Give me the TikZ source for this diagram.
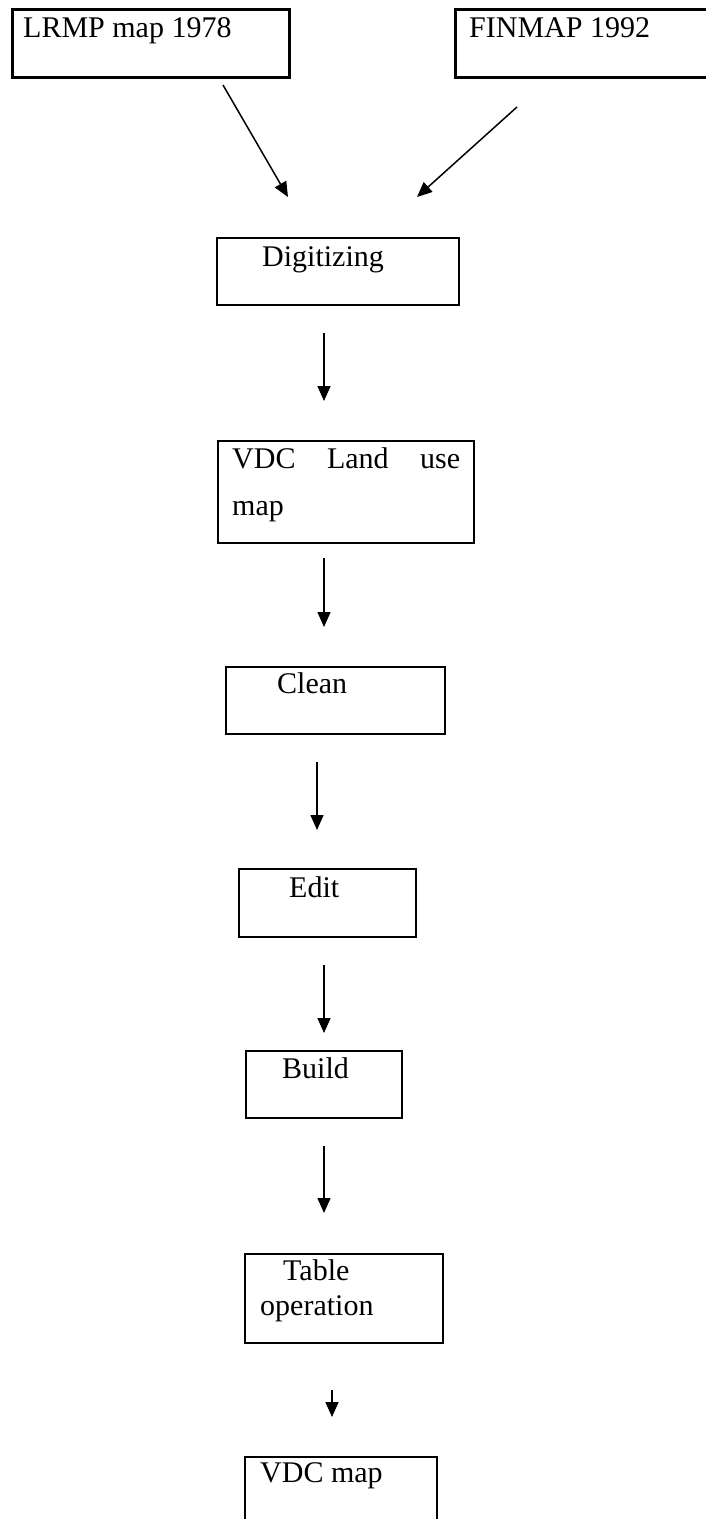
\documentclass[tikz,border=0pt]{standalone}
\usepackage{fontspec}
\setmainfont{Liberation Serif}
\usetikzlibrary{arrows.meta}

\tikzset{
	box/.style={draw, line width=2pt, inner sep=0pt},
	thickbox/.style={box, line width=3.2pt},
	txt/.style={anchor=base west, inner sep=0pt, font=\fontsize{30}{36}\selectfont},
	arr/.style={line width=1.5pt, -{Triangle[length=15pt, width=13pt]}}
}

\begin{document}
\begin{tikzpicture}[x=1pt, y=-1pt]
			\useasboundingbox (0,0) rectangle (706,1519);

			% the two source maps
			\node[thickbox, minimum width=277pt, minimum height=68pt] (lrmp) at (151,43.5) {};
			\node[thickbox, minimum width=285pt, minimum height=68pt] (finmap) at (598,43.5) {};
			\node[txt] (lrmptxt) at (23,37) {LRMP map 1978};
			\node[txt] (finmaptxt) at (469,37) {FINMAP 1992};

			% processing steps
			\node[box, minimum width=242pt, minimum height=67pt] (dig) at (338,271.5) {};
			\node[box, minimum width=256pt, minimum height=102pt] (vdc) at (346,492) {};
			\node[box, minimum width=219pt, minimum height=67pt] (clean) at (335.5,700.5) {};
			\node[box, minimum width=177pt, minimum height=68pt] (edit) at (327.5,903) {};
			\node[box, minimum width=156pt, minimum height=67pt] (build) at (324,1084.5) {};
			\node[box, minimum width=198pt, minimum height=89pt] (table) at (344,1298.5) {};
			\node[box, minimum width=192pt, minimum height=102pt] (vdcmap) at (341,1508) {};

			\node[txt] (digtxt) at (262,266) {Digitizing};
			\node[txt] (vdctxt) at (232,468) {\makebox[228pt][s]{VDC Land use}};
			\node[txt] (vdctxt2) at (232,515) {map};
			\node[txt] (cleantxt) at (277,693) {Clean};
			\node[txt] (edittxt) at (289,897) {Edit};
			\node[txt] (buildtxt) at (282,1078) {Build};
			\node[txt] (tabletxt) at (283,1280) {Table};
			\node[txt] (tabletxt2) at (260,1315) {operation};
			\node[txt] (vdcmaptxt) at (260,1482) {VDC map};

			% arrow ends
			\coordinate (a1) at (223,85);
			\coordinate (b1) at (288,197);
			\coordinate (a2) at (517,107);
			\coordinate (b2) at (417,197);
			\coordinate (a3) at (324,333);
			\coordinate (b3) at (324,401);
			\coordinate (a4) at (324,558);
			\coordinate (b4) at (324,627);
			\coordinate (a5) at (317,762);
			\coordinate (b5) at (317,830);
			\coordinate (a6) at (324,965);
			\coordinate (b6) at (324,1033);
			\coordinate (a7) at (324,1146);
			\coordinate (b7) at (324,1213);
			\coordinate (a8) at (332,1390);
			\coordinate (b8) at (332,1417);

			\foreach \i in {1,...,8}
			\draw[arr] (a\i) -- (b\i);
		\end{tikzpicture}
\end{document}
